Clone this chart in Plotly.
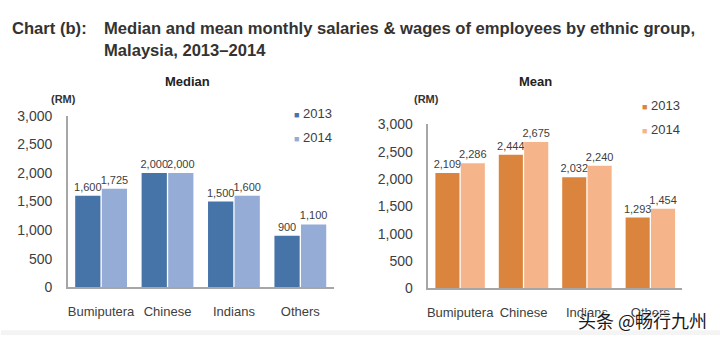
import plotly.graph_objects as go

# ---- data ----
groups = ["Bumiputera", "Chinese", "Indians", "Others"]
years = ["2013", "2014"]
median_2013 = [1600, 2000, 1500, 900]
median_2014 = [1725, 2000, 1600, 1100]
mean_2013 = [2109, 2444, 2032, 1293]
mean_2014 = [2286, 2675, 2240, 1454]
y_ticks = [0, 500, 1000, 1500, 2000, 2500, 3000]

title_lead = "Chart (b):"
title_text = "Median and mean monthly salaries &amp; wages of employees by ethnic group,<br>Malaysia, 2013–2014"
watermark = "头条 @畅行九州"

median_colors = ["#4673a8", "#94acd6"]
mean_colors = ["#db843d", "#f5b48a"]

W, H = 720, 343
FONT = "Liberation Sans, Arial, sans-serif"
TXT = "#404040"

def px(x):
    return x / W

def py(y):
    return 1 - y / H

fig = go.Figure()

for vals, col, yr in zip([median_2013, median_2014], median_colors, years):
    fig.add_trace(go.Bar(
        x=groups, y=vals, name=yr, marker=dict(color=col, line=dict(width=0)),
        text=[f"{v:,}" for v in vals], textposition="outside", cliponaxis=False,
        constraintext="none",
        textfont=dict(size=11, color=TXT, family=FONT),
        xaxis="x", yaxis="y", showlegend=False))

for vals, col, yr in zip([mean_2013, mean_2014], mean_colors, years):
    fig.add_trace(go.Bar(
        x=groups, y=vals, name=yr, marker=dict(color=col, line=dict(width=0)),
        text=[f"{v:,}" for v in vals], textposition="outside", cliponaxis=False,
        constraintext="none",
        textfont=dict(size=11, color=TXT, family=FONT),
        xaxis="x2", yaxis="y2", showlegend=False))

axis_common_x = dict(
    showline=True, linecolor="#a6a6a6", linewidth=1.5, showgrid=False, zeroline=False,
    ticks="", ticklabelstandoff=11,
    tickfont=dict(size=13, color=TXT, family=FONT), fixedrange=True)
axis_common_y = dict(
    range=[0, 3000], tickvals=y_ticks, tickformat=",", showline=True,
    linecolor="#a6a6a6", linewidth=1.5, showgrid=False, zeroline=False, ticks="",
    ticklabelstandoff=11, tickfont=dict(size=14, color=TXT, family=FONT), fixedrange=True)

fig.update_layout(
    width=W, height=H, margin=dict(l=0, r=0, t=0, b=0),
    paper_bgcolor="white", plot_bgcolor="white",
    barmode="group", bargap=0.2, bargroupgap=0.05,
    font=dict(family=FONT, color=TXT),
    xaxis=dict(domain=[px(67), px(333)], anchor="y", **axis_common_x),
    yaxis=dict(domain=[py(293), py(113)], anchor="x", **axis_common_y),
    xaxis2=dict(domain=[px(428), px(682)], anchor="y2", **axis_common_x),
    yaxis2=dict(domain=[py(294), py(122)], anchor="x2", **axis_common_y),
)

ann = []
# main title
ann.append(dict(text=f"<b>{title_lead}</b>", x=px(9), y=py(9), xref="paper", yref="paper",
                xanchor="left", yanchor="top", showarrow=False, align="left",
                font=dict(size=16.6, color="#333333", family=FONT)))
ann.append(dict(text=f"<b>{title_text}</b>", x=px(101), y=py(9), xref="paper", yref="paper",
                xanchor="left", yanchor="top", showarrow=False, align="left",
                font=dict(size=16.6, color="#333333", family=FONT)))
# subplot titles
for t, cx in [("Median", 187), ("Mean", 535)]:
    ann.append(dict(text=f"<b>{t}</b>", x=px(cx), y=py(77), xref="paper", yref="paper",
                    xanchor="center", yanchor="middle", showarrow=False,
                    font=dict(size=13, color="#222222", family=FONT)))
# unit labels
for cx in [63, 426]:
    ann.append(dict(text="<b>(RM)</b>", x=px(cx), y=py(95), xref="paper", yref="paper",
                    xanchor="center", yanchor="middle", showarrow=False,
                    font=dict(size=11, color="#333333", family=FONT)))
# legends
for colors, lx, ly0 in [(median_colors, 291, 111), (mean_colors, 640, 102)]:
    for i, (yr, col) in enumerate(zip(years, colors)):
        ann.append(dict(text=f"<span style='color:{col};font-size:9px'>■</span> {yr}",
                        x=px(lx), y=py(ly0 + 25 * i), xref="paper", yref="paper",
                        xanchor="left", yanchor="middle", showarrow=False,
                        font=dict(size=13, color=TXT, family=FONT)))
# watermark
ann.append(dict(text=watermark, x=px(709), y=py(327), xref="paper", yref="paper",
                xanchor="right", yanchor="middle", showarrow=False,
                font=dict(size=18, color="#1a1a1a", family="Noto Sans CJK SC",
                          shadow="1px 1px 1px white, -1px -1px 1px white")))
fig.update_layout(annotations=ann)

# faint bottom band
fig.add_shape(type="rect", xref="paper", yref="paper", x0=0, x1=1, y0=0, y1=py(338),
              fillcolor="#f4f4f4", line=dict(width=0), layer="below")

fig.write_html("out.html")
